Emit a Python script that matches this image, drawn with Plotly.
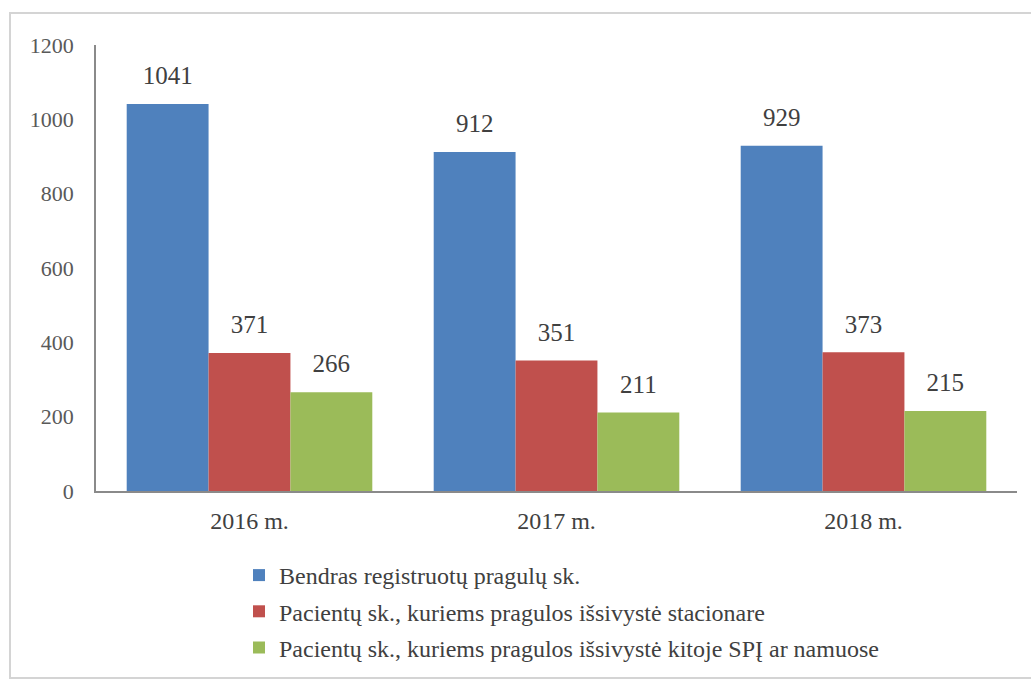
import plotly.graph_objects as go

categories = ["2016 m.", "2017 m.", "2018 m."]
series_names = [
    "Bendras registruotų pragulų sk.",
    "Pacientų sk., kuriems pragulos išsivystė stacionare",
    "Pacientų sk., kuriems pragulos išsivystė kitoje SPĮ ar namuose",
]
total_values = [1041, 912, 929]
hospital_values = [371, 351, 373]
other_values = [266, 211, 215]
colors = ["#4F81BD", "#C0504D", "#9BBB59"]

SERIF = "Times New Roman, Liberation Serif, serif"
all_values = [total_values, hospital_values, other_values]

fig = go.Figure()
for i, (name, vals) in enumerate(zip(series_names, all_values)):
    fig.add_trace(go.Bar(
        x=categories, y=vals, name=name,
        marker=dict(color=colors[i], line=dict(width=0)),
        legendgroup=f"g{i}", hoverinfo="skip",
    ))
# value labels, grouped like the bars
for i, vals in enumerate(all_values):
    fig.add_trace(go.Scatter(
        x=categories, y=vals, mode="markers+text",
        marker=dict(size=20, opacity=0, color=colors[i]),
        text=[str(v) for v in vals], textposition="top center",
        textfont=dict(family=SERIF, size=25, color="#404040"),
        showlegend=False, cliponaxis=False, hoverinfo="skip",
    ))

W, H = 1031, 681
ml, mr, mt, mb = 96, 14, 45, 190
pw, ph = W - ml - mr, H - mt - mb

def px(x):
    return (x - ml) / pw

def py(y):
    return (H - mb - y) / ph

fig.update_layout(
    width=W, height=H,
    margin=dict(l=ml, r=mr, t=mt, b=mb, autoexpand=False),
    paper_bgcolor="white", plot_bgcolor="white",
    barmode="group", bargap=0.2, bargroupgap=0,
    scattermode="group", scattergap=0.2,
    font=dict(family=SERIF, color="#404040"),
    showlegend=True,
    legend=dict(
        orientation="v", x=px(239), y=py(553), xanchor="left", yanchor="top",
        font=dict(family=SERIF, size=24, color="#404040"),
        tracegroupgap=2, itemwidth=30, bgcolor="rgba(0,0,0,0)",
    ),
    xaxis=dict(
        showline=True, linecolor="#8a8a8a", linewidth=1.5, automargin=False,
        ticks="", tickfont=dict(family=SERIF, size=24, color="#404040"),
        showgrid=False, ticklabelstandoff=7,
    ),
    yaxis=dict(
        range=[0, 1200], dtick=200, showline=True, linecolor="#8a8a8a", linewidth=1.5,
        ticks="", showgrid=False, zeroline=False, automargin=False,
        tickfont=dict(family=SERIF, size=22, color="#595959"),
        ticklabelstandoff=16,
    ),
    shapes=[dict(
        type="rect", xref="paper", yref="paper",
        x0=px(10), x1=px(1045), y0=py(678), y1=py(13),
        line=dict(color="#d4d4d4", width=2), fillcolor="rgba(0,0,0,0)", layer="below",
    )],
)

fig.write_html(
    "out.html",
    config={"displayModeBar": False},
    post_script="document.body.style.margin='0';document.body.style.overflow='hidden';",
)
